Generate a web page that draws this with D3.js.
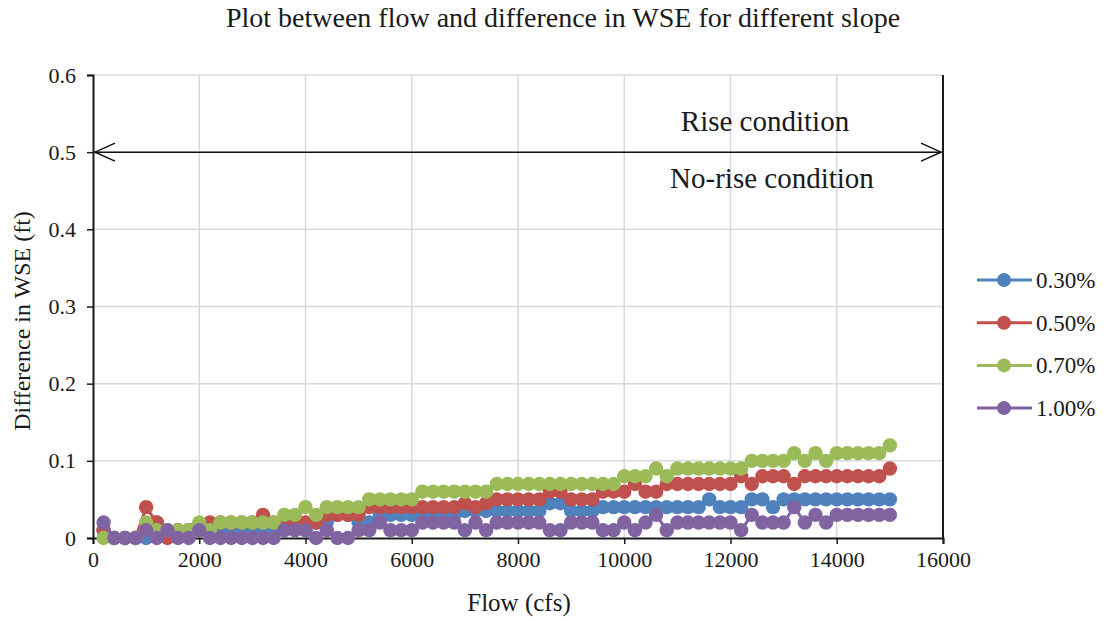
<!DOCTYPE html>
<html>
<head>
<meta charset="utf-8">
<script src="https://cdn.jsdelivr.net/npm/d3@7"></script>
<style>
  html, body { margin: 0; padding: 0; background: #fff; }
  svg { display: block; font-family: "Liberation Serif", "Times New Roman", serif; }
</style>
</head>
<body>
<svg id="chart" width="1107" height="621"></svg>
<script>
// Flow values (cfs), one sample every 200 cfs
const flows = d3.range(1, 76).map(i => i * 200);

// Difference in WSE (ft) for each slope
const slope030 = [0.01,0,0,0,0,0.02,0.01,0.01,0.01,0.01, 0.01,0.01,0.01,0.01,0.01,0.01,0.01,0.01,0.01,0.01,
  0.02,0.02,0.03,0.03,0.02,0.02,0.03,0.03,0.03,0.03, 0.03,0.03,0.03,0.03,0.035,0.035,0.035,0.035,0.035,0.035,
  0.035,0.035,0.045,0.045,0.035,0.035,0.035,0.04,0.04,0.04, 0.04,0.04,0.04,0.04,0.04,0.04,0.04,0.05,0.04,0.04,
  0.04,0.05,0.05,0.04,0.05,0.05,0.05,0.05,0.05,0.05, 0.05,0.05,0.05,0.05,0.05];
const slope050 = [0.01,0,0,0,0.04,0.02,0,0.01,0.01,0.01, 0.02,0.02,0.02,0.02,0.02,0.03,0.02,0.02,0.02,0.02,
  0.02,0.03,0.03,0.03,0.03,0.04,0.04,0.04,0.04,0.04, 0.04,0.04,0.04,0.04,0.045,0.04,0.045,0.05,0.05,0.05,
  0.05,0.05,0.06,0.06,0.05,0.05,0.05,0.06,0.06,0.06, 0.07,0.06,0.06,0.07,0.07,0.07,0.07,0.07,0.07,0.07,
  0.08,0.07,0.08,0.08,0.08,0.07,0.08,0.08,0.08,0.08, 0.08,0.08,0.08,0.08,0.09];
const slope070 = [0,0,0,0,0.02,0.01,0.01,0.01,0.01,0.02, 0.01,0.02,0.02,0.02,0.02,0.02,0.02,0.03,0.03,0.04,
  0.03,0.04,0.04,0.04,0.04,0.05,0.05,0.05,0.05,0.05, 0.06,0.06,0.06,0.06,0.06,0.06,0.06,0.07,0.07,0.07,
  0.07,0.07,0.07,0.07,0.07,0.07,0.07,0.07,0.07,0.08, 0.08,0.08,0.09,0.08,0.09,0.09,0.09,0.09,0.09,0.09,
  0.09,0.10,0.10,0.10,0.10,0.11,0.10,0.11,0.10,0.11, 0.11,0.11,0.11,0.11,0.12];
const slope100 = [0.02,0,0,0,0.01,0,0.01,0,0,0.01, 0,0,0,0,0,0,0,0.01,0.01,0.01,
  0,0.01,0,0,0.01,0.01,0.02,0.01,0.01,0.01, 0.02,0.02,0.02,0.02,0.01,0.02,0.01,0.02,0.02,0.02,
  0.02,0.02,0.01,0.01,0.02,0.02,0.02,0.01,0.01,0.02, 0.01,0.02,0.03,0.01,0.02,0.02,0.02,0.02,0.02,0.02,
  0.01,0.03,0.02,0.02,0.02,0.04,0.02,0.03,0.02,0.03, 0.03,0.03,0.03,0.03,0.03];

const seriesNames = ["0.30%", "0.50%", "0.70%", "1.00%"];
const seriesColors = ["#4F81BD", "#C0504D", "#9BBB59", "#8064A2"];
const xTicks = [0, 2000, 4000, 6000, 8000, 10000, 12000, 14000, 16000];
const yTicks = [0, 0.1, 0.2, 0.3, 0.4, 0.5, 0.6];
const thresholdValue = 0.5;

const series = [slope030, slope050, slope070, slope100].map((vals, i) => ({
  name: seriesNames[i], color: seriesColors[i],
  points: flows.map((f, j) => ({ x: f, y: vals[j] }))
}));

const svg = d3.select("#chart");
const plotL = 93, plotR = 943, plotT = 75, plotB = 538;
const ink = "#1a1a1a";

const x = d3.scaleLinear().domain([0, 16000]).range([plotL, plotR]);
const y = d3.scaleLinear().domain([0, 0.6]).range([plotB, plotT]);

// Title
svg.append("text")
  .attr("x", 563).attr("y", 27)
  .attr("text-anchor", "middle")
  .attr("font-size", 28)
  .attr("fill", ink)
  .text("Plot between flow and difference in WSE for different slope");

// Gridlines
svg.append("g").selectAll("line").data(yTicks.filter(d => d > 0)).join("line")
  .attr("x1", plotL).attr("x2", plotR)
  .attr("y1", d => y(d)).attr("y2", d => y(d))
  .attr("stroke", "#d9d9d9").attr("stroke-width", 1.5);
svg.append("g").selectAll("line").data(xTicks.filter(d => d > 0 && d < 16000)).join("line")
  .attr("x1", d => x(d)).attr("x2", d => x(d))
  .attr("y1", plotT).attr("y2", plotB)
  .attr("stroke", "#d9d9d9").attr("stroke-width", 1.5);

// Right border of the plot area
svg.append("line")
  .attr("x1", plotR).attr("x2", plotR).attr("y1", plotT).attr("y2", plotB)
  .attr("stroke", ink).attr("stroke-width", 2);

// Axes
const xAxis = svg.append("g")
  .attr("transform", `translate(0,${plotB})`)
  .call(d3.axisBottom(x).tickValues(xTicks).tickSize(6).tickPadding(7).tickFormat(d3.format("d")));
const yAxis = svg.append("g")
  .attr("transform", `translate(${plotL},0)`)
  .call(d3.axisLeft(y).tickValues(yTicks).tickSize(6).tickPadding(11).tickFormat(d => d === 0 ? "0" : d3.format(".1f")(d)));
[xAxis, yAxis].forEach(g => {
  g.select(".domain").attr("stroke", ink).attr("stroke-width", 2);
  g.selectAll(".tick line").attr("stroke", ink).attr("stroke-width", 1.5);
  g.selectAll(".tick text").attr("font-size", 22).attr("fill", ink)
    .attr("font-family", "'Liberation Serif', 'Times New Roman', serif");
});

// Axis titles
svg.append("text")
  .attr("x", 519).attr("y", 611)
  .attr("text-anchor", "middle").attr("font-size", 25).attr("fill", ink)
  .text("Flow (cfs)");
svg.append("text")
  .attr("transform", `translate(30,321) rotate(-90)`)
  .attr("text-anchor", "middle").attr("font-size", 24).attr("fill", ink)
  .text("Difference in WSE (ft)");

// Threshold arrow at 0.5 ft
const ya = y(thresholdValue);
svg.append("line")
  .attr("x1", plotL + 1).attr("x2", plotR - 1).attr("y1", ya).attr("y2", ya)
  .attr("stroke", "#111").attr("stroke-width", 1.5);
svg.append("path")
  .attr("d", `M${plotL + 22},${ya - 9} L${plotL + 2},${ya} L${plotL + 22},${ya + 9}`)
  .attr("fill", "none").attr("stroke", "#111").attr("stroke-width", 1.5);
svg.append("path")
  .attr("d", `M${plotR - 22},${ya - 9} L${plotR - 2},${ya} L${plotR - 22},${ya + 9}`)
  .attr("fill", "none").attr("stroke", "#111").attr("stroke-width", 1.5);
svg.append("text")
  .attr("x", 765).attr("y", 131)
  .attr("text-anchor", "middle").attr("font-size", 29).attr("fill", ink)
  .text("Rise condition");
svg.append("text")
  .attr("x", 772).attr("y", 188)
  .attr("text-anchor", "middle").attr("font-size", 29).attr("fill", ink)
  .text("No-rise condition");

// Series lines and markers
const line = d3.line().x(d => x(d.x)).y(d => y(d.y));
const sg = svg.append("g").selectAll("g").data(series).join("g");
sg.append("path")
  .attr("d", d => line(d.points))
  .attr("fill", "none").attr("stroke", d => d.color).attr("stroke-width", 3);
sg.selectAll("circle").data(d => d.points.map(p => ({ ...p, color: d.color }))).join("circle")
  .attr("cx", d => x(d.x)).attr("cy", d => y(d.y)).attr("r", 7.2)
  .attr("fill", d => d.color);

// Legend
const lg = svg.append("g").selectAll("g").data(series).join("g")
  .attr("transform", (d, i) => `translate(977,${280 + i * 42.7})`);
lg.append("line").attr("x1", 0).attr("x2", 55).attr("y1", 0).attr("y2", 0)
  .attr("stroke", d => d.color).attr("stroke-width", 3);
lg.append("circle").attr("cx", 27).attr("cy", 0).attr("r", 7).attr("fill", d => d.color);
lg.append("text").attr("x", 59).attr("y", 8).attr("font-size", 23).attr("fill", ink)
  .text(d => d.name);
</script>
</body>
</html>
